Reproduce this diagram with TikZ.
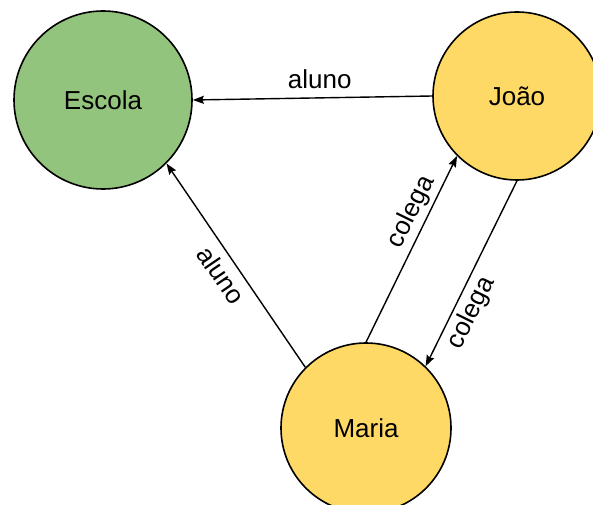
\documentclass[tikz,border=0pt]{standalone}
\usepackage{fontspec}
\setmainfont{Liberation Sans}
\usetikzlibrary{arrows.meta}
\definecolor{verde}{HTML}{93C47D}
\definecolor{amarelo}{HTML}{FFD966}

\begin{document}
\begin{tikzpicture}[x=1pt,y=1pt,
	no/.style={circle, draw=black, line width=1.6pt, inner sep=0pt, font=\fontsize{26}{30}\selectfont},
	rel/.style={line width=1.4pt, -{Stealth[length=11pt,width=8pt,inset=1.5pt]}},
	rotulo/.style={font=\fontsize{26}{30}\selectfont}]
			%%%%% START %%%%%
			
			\clip (0,0) rectangle (593,504);
			
			\node[no, fill=verde, minimum size=178pt] (escola) at (103,404) {Escola};
			\node[no, fill=amarelo, minimum size=168pt] (joao) at (517,408) {João};
			\node[no, fill=amarelo, minimum size=170pt] (maria) at (366,76) {Maria};
			
			\draw[rel] (joao.west) -- node[rotulo, pos=0.47, above=5.5pt] {aluno} (escola.east);
			\draw[rel] (maria.135) -- node[rotulo, sloped, below=4pt] {aluno} (escola.-45);
			
			\draw[rel] (maria.90) -- node[rotulo, sloped, pos=0.66, above=0pt] {colega} (joao.225);
			\draw[rel] (joao.270) -- node[rotulo, sloped, pos=0.67, below=1.5pt] {colega} (maria.46);
			
			%%%%% END %%%%%
		\end{tikzpicture}
\end{document}
